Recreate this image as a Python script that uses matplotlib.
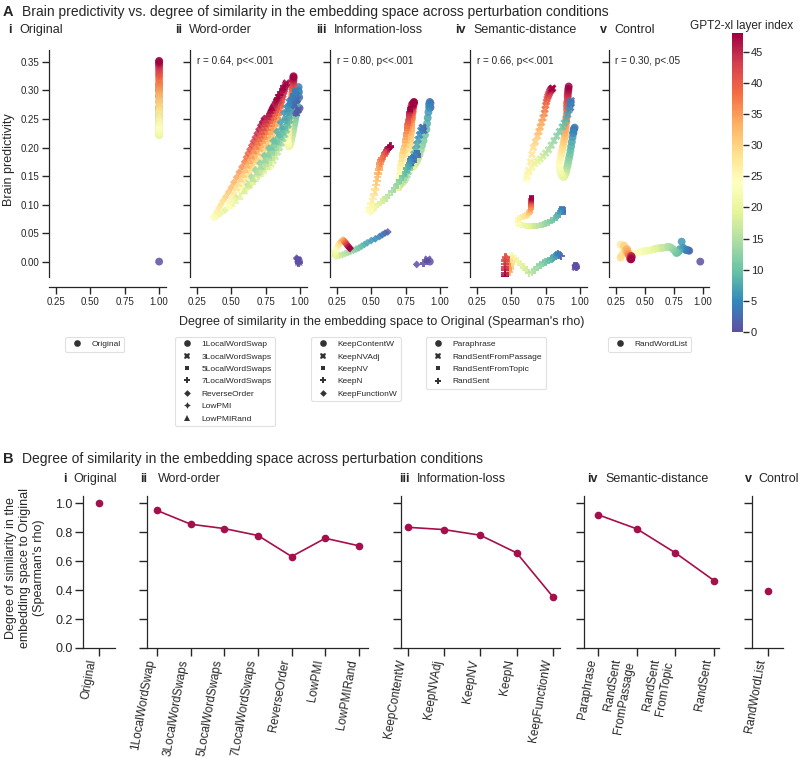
import matplotlib
matplotlib.use('Agg')
import matplotlib.pyplot as plt
from matplotlib.lines import Line2D
from matplotlib.cm import ScalarMappable
from matplotlib.colors import Normalize

plt.rcParams['font.family'] = ['Liberation Sans', 'DejaVu Sans']
plt.rcParams['text.color'] = '#262626'
plt.rcParams['axes.edgecolor'] = '#262626'
plt.rcParams['xtick.color'] = '#262626'
plt.rcParams['ytick.color'] = '#262626'

# ------------------------------------------------------------------ data
layers = list(range(49))

x_Original = [1.0, 1.0, 1.0, 1.0, 1.0, 1.0, 1.0, 1.0, 1.0, 1.0,
              1.0, 1.0, 1.0, 1.0, 1.0, 1.0, 1.0, 1.0, 1.0, 1.0,
              1.0, 1.0, 1.0, 1.0, 1.0, 1.0, 1.0, 1.0, 1.0, 1.0,
              1.0, 1.0, 1.0, 1.0, 1.0, 1.0, 1.0, 1.0, 1.0, 1.0,
              1.0, 1.0, 1.0, 1.0, 1.0, 1.0, 1.0, 1.0, 1.0]
y_Original = [0.000, 0.270, 0.290, 0.300, 0.310, 0.305, 0.300, 0.290, 0.280, 0.270,
              0.265, 0.260, 0.255, 0.250, 0.245, 0.240, 0.235, 0.230, 0.225, 0.222,
              0.222, 0.225, 0.228, 0.232, 0.238, 0.245, 0.252, 0.260, 0.266, 0.272,
              0.278, 0.284, 0.290, 0.295, 0.300, 0.305, 0.310, 0.315, 0.320, 0.325,
              0.328, 0.332, 0.336, 0.340, 0.343, 0.346, 0.348, 0.350, 0.352]

x_1LocalWordSwap = [0.990, 0.996, 0.993, 0.991, 0.989, 0.987, 0.984, 0.980, 0.977, 0.973,
                    0.969, 0.964, 0.960, 0.955, 0.951, 0.946, 0.941, 0.935, 0.930, 0.924,
                    0.919, 0.915, 0.912, 0.910, 0.910, 0.912, 0.915, 0.917, 0.920, 0.923,
                    0.925, 0.928, 0.931, 0.933, 0.936, 0.939, 0.942, 0.944, 0.946, 0.947,
                    0.948, 0.948, 0.949, 0.950, 0.950, 0.951, 0.951, 0.952, 0.952]
y_1LocalWordSwap = [0.002, 0.269, 0.288, 0.297, 0.306, 0.300, 0.295, 0.284, 0.273, 0.262,
                    0.256, 0.250, 0.244, 0.238, 0.232, 0.226, 0.220, 0.214, 0.208, 0.204,
                    0.202, 0.204, 0.206, 0.209, 0.214, 0.221, 0.228, 0.236, 0.243, 0.249,
                    0.255, 0.262, 0.268, 0.273, 0.279, 0.285, 0.290, 0.295, 0.299, 0.303,
                    0.306, 0.309, 0.312, 0.315, 0.317, 0.319, 0.321, 0.323, 0.325]

x_3LocalWordSwaps = [0.985, 0.988, 0.980, 0.975, 0.970, 0.963, 0.955, 0.945, 0.935, 0.925,
                     0.913, 0.900, 0.888, 0.875, 0.863, 0.850, 0.835, 0.820, 0.805, 0.790,
                     0.775, 0.763, 0.755, 0.750, 0.750, 0.755, 0.763, 0.770, 0.778, 0.785,
                     0.793, 0.800, 0.808, 0.815, 0.823, 0.830, 0.838, 0.845, 0.850, 0.855,
                     0.860, 0.865, 0.870, 0.875, 0.880, 0.885, 0.890, 0.895, 0.900]
y_3LocalWordSwaps = [0.003, 0.266, 0.284, 0.292, 0.300, 0.292, 0.285, 0.272, 0.260, 0.248,
                     0.240, 0.231, 0.223, 0.216, 0.208, 0.200, 0.192, 0.184, 0.177, 0.171,
                     0.167, 0.166, 0.167, 0.168, 0.173, 0.179, 0.186, 0.194, 0.201, 0.208,
                     0.215, 0.222, 0.229, 0.235, 0.242, 0.248, 0.255, 0.261, 0.267, 0.273,
                     0.277, 0.283, 0.288, 0.293, 0.298, 0.302, 0.306, 0.310, 0.313]

x_5LocalWordSwaps = [0.985, 0.985, 0.975, 0.969, 0.963, 0.954, 0.944, 0.932, 0.919, 0.907,
                     0.892, 0.876, 0.861, 0.845, 0.830, 0.814, 0.795, 0.777, 0.758, 0.740,
                     0.721, 0.706, 0.696, 0.690, 0.690, 0.696, 0.706, 0.715, 0.724, 0.733,
                     0.743, 0.752, 0.761, 0.771, 0.780, 0.789, 0.799, 0.808, 0.814, 0.820,
                     0.826, 0.833, 0.839, 0.845, 0.851, 0.857, 0.864, 0.870, 0.876]
y_5LocalWordSwaps = [0.001, 0.265, 0.282, 0.290, 0.297, 0.289, 0.282, 0.268, 0.255, 0.242,
                     0.233, 0.225, 0.216, 0.207, 0.199, 0.191, 0.182, 0.173, 0.165, 0.158,
                     0.154, 0.152, 0.152, 0.153, 0.157, 0.163, 0.170, 0.178, 0.185, 0.192,
                     0.199, 0.206, 0.214, 0.221, 0.227, 0.234, 0.241, 0.249, 0.254, 0.261,
                     0.265, 0.271, 0.277, 0.282, 0.287, 0.292, 0.296, 0.300, 0.304]

x_7LocalWordSwaps = [0.990, 0.981, 0.969, 0.961, 0.953, 0.942, 0.930, 0.914, 0.899, 0.883,
                     0.864, 0.844, 0.825, 0.805, 0.786, 0.766, 0.743, 0.719, 0.696, 0.672,
                     0.649, 0.630, 0.618, 0.610, 0.610, 0.618, 0.630, 0.641, 0.653, 0.665,
                     0.676, 0.688, 0.700, 0.711, 0.723, 0.735, 0.747, 0.758, 0.766, 0.774,
                     0.782, 0.789, 0.797, 0.805, 0.813, 0.821, 0.828, 0.836, 0.844]
y_7LocalWordSwaps = [-0.002, 0.264, 0.280, 0.287, 0.294, 0.285, 0.277, 0.263, 0.249, 0.235,
                     0.225, 0.215, 0.206, 0.196, 0.187, 0.178, 0.168, 0.159, 0.150, 0.142,
                     0.136, 0.133, 0.132, 0.132, 0.136, 0.142, 0.149, 0.157, 0.164, 0.172,
                     0.179, 0.187, 0.194, 0.201, 0.209, 0.216, 0.224, 0.231, 0.238, 0.244,
                     0.249, 0.255, 0.261, 0.267, 0.272, 0.278, 0.282, 0.287, 0.292]

x_ReverseOrder = [0.975, 0.968, 0.948, 0.935, 0.922, 0.903, 0.883, 0.857, 0.831, 0.805,
                  0.773, 0.740, 0.708, 0.675, 0.643, 0.610, 0.571, 0.532, 0.493, 0.454,
                  0.420, 0.395, 0.380, 0.372, 0.375, 0.385, 0.398, 0.410, 0.425, 0.441,
                  0.461, 0.480, 0.500, 0.519, 0.539, 0.558, 0.578, 0.597, 0.610, 0.623,
                  0.636, 0.649, 0.662, 0.675, 0.688, 0.701, 0.714, 0.727, 0.740]
y_ReverseOrder = [0.006, 0.260, 0.273, 0.279, 0.283, 0.272, 0.261, 0.244, 0.228, 0.212,
                  0.199, 0.186, 0.173, 0.161, 0.149, 0.137, 0.124, 0.112, 0.100, 0.090,
                  0.084, 0.080, 0.078, 0.077, 0.079, 0.083, 0.088, 0.094, 0.100, 0.107,
                  0.114, 0.122, 0.130, 0.139, 0.148, 0.157, 0.166, 0.175, 0.183, 0.190,
                  0.197, 0.204, 0.211, 0.218, 0.225, 0.232, 0.239, 0.245, 0.251]

x_LowPMI = [0.980, 0.979, 0.966, 0.957, 0.948, 0.936, 0.923, 0.905, 0.888, 0.871,
            0.850, 0.828, 0.807, 0.785, 0.764, 0.742, 0.716, 0.690, 0.665, 0.639,
            0.613, 0.592, 0.579, 0.570, 0.570, 0.579, 0.592, 0.604, 0.617, 0.630,
            0.643, 0.656, 0.669, 0.682, 0.695, 0.708, 0.721, 0.733, 0.742, 0.751,
            0.759, 0.768, 0.776, 0.785, 0.794, 0.802, 0.811, 0.819, 0.828]
y_LowPMI = [0.004, 0.264, 0.279, 0.286, 0.292, 0.283, 0.274, 0.260, 0.246, 0.232,
            0.221, 0.211, 0.201, 0.191, 0.181, 0.172, 0.162, 0.152, 0.142, 0.134,
            0.127, 0.124, 0.122, 0.122, 0.125, 0.131, 0.139, 0.147, 0.154, 0.161,
            0.169, 0.177, 0.184, 0.192, 0.199, 0.207, 0.215, 0.223, 0.229, 0.236,
            0.241, 0.247, 0.253, 0.260, 0.265, 0.271, 0.276, 0.280, 0.285]

x_LowPMIRand = [0.990, 0.974, 0.958, 0.948, 0.938, 0.922, 0.906, 0.886, 0.865, 0.844,
                0.818, 0.792, 0.766, 0.740, 0.714, 0.688, 0.657, 0.626, 0.594, 0.563,
                0.532, 0.506, 0.490, 0.480, 0.480, 0.490, 0.506, 0.522, 0.537, 0.553,
                0.568, 0.584, 0.600, 0.615, 0.631, 0.646, 0.662, 0.678, 0.688, 0.698,
                0.709, 0.719, 0.730, 0.740, 0.750, 0.761, 0.771, 0.782, 0.792]
y_LowPMIRand = [0.000, 0.262, 0.277, 0.283, 0.289, 0.279, 0.269, 0.254, 0.238, 0.224,
                0.212, 0.201, 0.189, 0.179, 0.168, 0.158, 0.146, 0.135, 0.125, 0.115,
                0.108, 0.103, 0.100, 0.099, 0.102, 0.108, 0.115, 0.123, 0.131, 0.138,
                0.146, 0.154, 0.162, 0.170, 0.178, 0.186, 0.195, 0.203, 0.210, 0.217,
                0.223, 0.229, 0.236, 0.243, 0.249, 0.255, 0.260, 0.266, 0.271]

x_KeepContentW = [0.925, 0.930, 0.930, 0.925, 0.920, 0.920, 0.915, 0.910, 0.905, 0.900,
                  0.890, 0.880, 0.870, 0.860, 0.850, 0.840, 0.830, 0.820, 0.810, 0.800,
                  0.795, 0.790, 0.785, 0.780, 0.780, 0.780, 0.780, 0.780, 0.780, 0.785,
                  0.785, 0.785, 0.790, 0.790, 0.790, 0.790, 0.795, 0.795, 0.795, 0.800,
                  0.800, 0.800, 0.800, 0.805, 0.805, 0.805, 0.810, 0.810, 0.810]
y_KeepContentW = [0.000, 0.270, 0.278, 0.280, 0.276, 0.270, 0.262, 0.252, 0.242, 0.232,
                  0.222, 0.212, 0.204, 0.196, 0.188, 0.182, 0.176, 0.172, 0.168, 0.166,
                  0.166, 0.168, 0.170, 0.175, 0.180, 0.186, 0.192, 0.198, 0.204, 0.210,
                  0.216, 0.222, 0.228, 0.234, 0.240, 0.245, 0.250, 0.254, 0.258, 0.262,
                  0.265, 0.268, 0.270, 0.272, 0.274, 0.276, 0.278, 0.279, 0.280]

x_KeepNVAdj = [0.910, 0.880, 0.875, 0.870, 0.860, 0.850, 0.840, 0.830, 0.820, 0.810,
               0.800, 0.790, 0.780, 0.770, 0.760, 0.750, 0.740, 0.730, 0.720, 0.715,
               0.710, 0.710, 0.710, 0.715, 0.720, 0.725, 0.730, 0.735, 0.740, 0.745,
               0.750, 0.755, 0.760, 0.765, 0.770, 0.770, 0.775, 0.775, 0.780, 0.780,
               0.785, 0.785, 0.790, 0.790, 0.790, 0.795, 0.795, 0.800, 0.800]
y_KeepNVAdj = [0.004, 0.230, 0.235, 0.235, 0.230, 0.222, 0.214, 0.205, 0.196, 0.188,
               0.180, 0.172, 0.165, 0.158, 0.152, 0.147, 0.143, 0.140, 0.138, 0.137,
               0.138, 0.140, 0.144, 0.150, 0.157, 0.165, 0.173, 0.181, 0.189, 0.197,
               0.205, 0.212, 0.219, 0.226, 0.232, 0.238, 0.243, 0.248, 0.252, 0.256,
               0.260, 0.263, 0.266, 0.268, 0.270, 0.272, 0.274, 0.275, 0.276]

x_KeepNV = [0.900, 0.840, 0.835, 0.830, 0.820, 0.810, 0.800, 0.795, 0.790, 0.780,
            0.770, 0.760, 0.750, 0.740, 0.730, 0.720, 0.710, 0.700, 0.695, 0.690,
            0.690, 0.690, 0.695, 0.700, 0.700, 0.705, 0.710, 0.715, 0.720, 0.725,
            0.730, 0.735, 0.740, 0.745, 0.750, 0.750, 0.755, 0.760, 0.760, 0.765,
            0.765, 0.770, 0.770, 0.775, 0.775, 0.780, 0.780, 0.780, 0.785]
y_KeepNV = [0.002, 0.186, 0.190, 0.190, 0.188, 0.184, 0.180, 0.176, 0.172, 0.168,
            0.163, 0.158, 0.152, 0.147, 0.142, 0.138, 0.134, 0.131, 0.129, 0.129,
            0.131, 0.135, 0.140, 0.146, 0.152, 0.159, 0.166, 0.173, 0.180, 0.187,
            0.194, 0.200, 0.206, 0.212, 0.218, 0.223, 0.228, 0.233, 0.238, 0.242,
            0.246, 0.250, 0.254, 0.257, 0.260, 0.263, 0.265, 0.267, 0.268]

x_KeepN = [0.880, 0.800, 0.800, 0.795, 0.790, 0.785, 0.780, 0.770, 0.760, 0.750,
           0.730, 0.710, 0.690, 0.670, 0.650, 0.630, 0.610, 0.590, 0.570, 0.550,
           0.530, 0.515, 0.500, 0.490, 0.485, 0.490, 0.500, 0.510, 0.520, 0.530,
           0.535, 0.540, 0.545, 0.550, 0.555, 0.560, 0.565, 0.570, 0.580, 0.590,
           0.600, 0.605, 0.610, 0.615, 0.620, 0.625, 0.630, 0.635, 0.640]
y_KeepN = [-0.003, 0.175, 0.180, 0.182, 0.180, 0.177, 0.173, 0.168, 0.163, 0.157,
           0.150, 0.143, 0.136, 0.129, 0.123, 0.117, 0.112, 0.108, 0.104, 0.100,
           0.096, 0.092, 0.089, 0.088, 0.090, 0.095, 0.102, 0.110, 0.118, 0.126,
           0.134, 0.141, 0.148, 0.155, 0.161, 0.167, 0.172, 0.177, 0.181, 0.185,
           0.189, 0.192, 0.194, 0.196, 0.198, 0.199, 0.200, 0.201, 0.202]

x_KeepFunctionW = [0.830, 0.620, 0.600, 0.580, 0.560, 0.530, 0.500, 0.470, 0.450, 0.430,
                   0.410, 0.390, 0.370, 0.350, 0.330, 0.310, 0.290, 0.270, 0.250, 0.240,
                   0.235, 0.235, 0.240, 0.245, 0.250, 0.255, 0.260, 0.265, 0.270, 0.275,
                   0.280, 0.285, 0.290, 0.295, 0.300, 0.305, 0.310, 0.310, 0.315, 0.315,
                   0.320, 0.320, 0.325, 0.330, 0.330, 0.335, 0.340, 0.340, 0.345]
y_KeepFunctionW = [-0.005, 0.052, 0.050, 0.047, 0.044, 0.040, 0.037, 0.033, 0.030, 0.027,
                   0.024, 0.022, 0.020, 0.018, 0.016, 0.014, 0.012, 0.011, 0.010, 0.010,
                   0.012, 0.015, 0.018, 0.021, 0.024, 0.026, 0.028, 0.030, 0.032, 0.034,
                   0.035, 0.036, 0.037, 0.037, 0.037, 0.036, 0.035, 0.034, 0.033, 0.032,
                   0.031, 0.030, 0.029, 0.028, 0.027, 0.026, 0.025, 0.024, 0.023]

x_Paraphrase = [0.970, 0.950, 0.955, 0.960, 0.955, 0.950, 0.945, 0.940, 0.935, 0.930,
                0.925, 0.920, 0.915, 0.910, 0.905, 0.900, 0.895, 0.890, 0.885, 0.880,
                0.870, 0.860, 0.855, 0.850, 0.850, 0.855, 0.860, 0.865, 0.870, 0.875,
                0.880, 0.885, 0.890, 0.890, 0.895, 0.895, 0.900, 0.900, 0.905, 0.905,
                0.905, 0.905, 0.910, 0.910, 0.910, 0.912, 0.914, 0.915, 0.917]
y_Paraphrase = [-0.008, 0.225, 0.232, 0.235, 0.232, 0.226, 0.218, 0.210, 0.202, 0.195,
                0.188, 0.182, 0.176, 0.170, 0.165, 0.160, 0.156, 0.152, 0.150, 0.148,
                0.150, 0.155, 0.160, 0.166, 0.172, 0.178, 0.184, 0.190, 0.196, 0.202,
                0.208, 0.214, 0.220, 0.226, 0.232, 0.238, 0.245, 0.252, 0.259, 0.266,
                0.272, 0.278, 0.283, 0.288, 0.292, 0.296, 0.300, 0.303, 0.307]

x_RandSentFromPassage = [0.965, 0.930, 0.935, 0.935, 0.930, 0.925, 0.920, 0.910, 0.900, 0.885,
                         0.870, 0.850, 0.830, 0.810, 0.790, 0.770, 0.750, 0.730, 0.710, 0.690,
                         0.670, 0.650, 0.630, 0.615, 0.610, 0.615, 0.625, 0.640, 0.650, 0.660,
                         0.675, 0.690, 0.700, 0.710, 0.720, 0.730, 0.740, 0.745, 0.750, 0.755,
                         0.760, 0.765, 0.770, 0.775, 0.780, 0.785, 0.790, 0.795, 0.800]
y_RandSentFromPassage = [-0.010, 0.270, 0.278, 0.282, 0.280, 0.274, 0.266, 0.258, 0.250, 0.243,
                         0.236, 0.228, 0.220, 0.212, 0.204, 0.196, 0.190, 0.185, 0.180, 0.176,
                         0.172, 0.165, 0.157, 0.150, 0.145, 0.150, 0.160, 0.175, 0.188, 0.200,
                         0.210, 0.220, 0.228, 0.236, 0.244, 0.252, 0.260, 0.267, 0.274, 0.280,
                         0.285, 0.289, 0.292, 0.295, 0.298, 0.300, 0.302, 0.303, 0.304]

x_RandSentFromTopic = [0.965, 0.880, 0.875, 0.870, 0.865, 0.860, 0.850, 0.840, 0.830, 0.820,
                       0.800, 0.780, 0.760, 0.740, 0.720, 0.700, 0.680, 0.660, 0.640, 0.620,
                       0.600, 0.580, 0.560, 0.550, 0.545, 0.550, 0.560, 0.580, 0.600, 0.615,
                       0.625, 0.630, 0.635, 0.640, 0.640, 0.640, 0.642, 0.643, 0.644, 0.645,
                       0.645, 0.645, 0.645, 0.646, 0.646, 0.646, 0.647, 0.647, 0.648]
y_RandSentFromTopic = [-0.006, 0.086, 0.090, 0.092, 0.091, 0.089, 0.086, 0.082, 0.079, 0.076,
                       0.073, 0.070, 0.068, 0.066, 0.064, 0.063, 0.062, 0.062, 0.062, 0.062,
                       0.063, 0.064, 0.066, 0.068, 0.070, 0.073, 0.076, 0.078, 0.080, 0.082,
                       0.084, 0.086, 0.088, 0.090, 0.092, 0.094, 0.096, 0.098, 0.100, 0.102,
                       0.104, 0.105, 0.106, 0.107, 0.108, 0.109, 0.110, 0.111, 0.112]

x_RandSent = [0.970, 0.860, 0.850, 0.840, 0.830, 0.820, 0.810, 0.800, 0.790, 0.770,
              0.750, 0.730, 0.710, 0.690, 0.670, 0.650, 0.630, 0.610, 0.590, 0.570,
              0.550, 0.530, 0.510, 0.500, 0.490, 0.485, 0.480, 0.510, 0.500, 0.500,
              0.490, 0.490, 0.480, 0.485, 0.480, 0.475, 0.470, 0.470, 0.465, 0.465,
              0.460, 0.460, 0.455, 0.455, 0.455, 0.455, 0.455, 0.455, 0.455]
y_RandSent = [-0.010, 0.010, 0.012, 0.013, 0.012, 0.010, 0.008, 0.006, 0.004, 0.002,
              0.000, -0.003, -0.006, -0.010, -0.015, -0.018, -0.020, -0.015, -0.010, -0.005,
              0.000, 0.005, 0.008, 0.010, 0.008, 0.005, 0.002, 0.004, 0.000, -0.004,
              -0.008, -0.012, -0.015, -0.018, -0.016, -0.012, -0.008, -0.004, 0.000, 0.004,
              0.006, 0.008, 0.002, -0.004, -0.010, -0.015, -0.020, -0.024, -0.028]

x_RandWordList = [0.975, 0.880, 0.870, 0.860, 0.845, 0.830, 0.815, 0.800, 0.790, 0.780,
                  0.770, 0.760, 0.740, 0.720, 0.700, 0.680, 0.650, 0.630, 0.600, 0.580,
                  0.550, 0.510, 0.480, 0.440, 0.400, 0.350, 0.310, 0.290, 0.300, 0.290,
                  0.320, 0.330, 0.340, 0.345, 0.350, 0.355, 0.360, 0.365, 0.370, 0.370,
                  0.375, 0.375, 0.380, 0.380, 0.380, 0.385, 0.385, 0.380, 0.380]
y_RandWordList = [0.000, 0.019, 0.020, 0.020, 0.021, 0.024, 0.035, 0.022, 0.018, 0.016,
                  0.015, 0.018, 0.022, 0.025, 0.026, 0.025, 0.024, 0.024, 0.023, 0.022,
                  0.020, 0.019, 0.018, 0.016, 0.015, 0.018, 0.024, 0.030, 0.012, 0.007,
                  0.028, 0.020, 0.016, 0.022, 0.018, 0.014, 0.012, 0.010, 0.008, 0.006,
                  0.005, 0.004, 0.006, 0.008, 0.010, 0.009, 0.007, 0.005, 0.004]

# panel group definitions
group_numerals = ['i', 'ii', 'iii', 'iv', 'v']
group_names = ['Original', 'Word-order', 'Information-loss', 'Semantic-distance', 'Control']
cond_original = ['Original']
cond_wordorder = ['1LocalWordSwap', '3LocalWordSwaps', '5LocalWordSwaps', '7LocalWordSwaps',
                  'ReverseOrder', 'LowPMI', 'LowPMIRand']
cond_infoloss = ['KeepContentW', 'KeepNVAdj', 'KeepNV', 'KeepN', 'KeepFunctionW']
cond_semantic = ['Paraphrase', 'RandSentFromPassage', 'RandSentFromTopic', 'RandSent']
cond_control = ['RandWordList']
corr_labels = ['', 'r = 0.64, p<<.001', 'r = 0.80, p<<.001', 'r = 0.66, p<<.001', 'r = 0.30, p<.05']

# panel B: mean similarity per condition
sim_original = [1.00]
sim_wordorder = [0.950, 0.855, 0.825, 0.777, 0.632, 0.758, 0.706]
sim_infoloss = [0.834, 0.818, 0.779, 0.657, 0.352]
sim_semantic = [0.920, 0.823, 0.657, 0.466]
sim_control = [0.393]
labels_semantic_B = ['Paraphrase', 'RandSent\nFromPassage', 'RandSent\nFromTopic', 'RandSent']

# ------------------------------------------------------------------ figure
W, H = 800, 758
fig = plt.figure(figsize=(W / 100, H / 100), dpi=100)


def add_ax(l, t, r, b):
    return fig.add_axes([l / W, 1 - b / H, (r - l) / W, (b - t) / H])


def ftext(px, py, s, **kw):
    return fig.text(px / W, 1 - py / H, s, **kw)


cmap = 'Spectral_r'
norm = Normalize(vmin=0, vmax=48)
markers = ['o', 'X', (4, 0, 45), 'P', (4, 0, 0), (4, 1, 0), '^']
data = {}
for name in (cond_original + cond_wordorder + cond_infoloss + cond_semantic + cond_control):
    data[name] = (globals()['x_' + name], globals()['y_' + name])

groups = [cond_original, cond_wordorder, cond_infoloss, cond_semantic, cond_control]

# ---- Panel A
ax_boxes = [(49, 166, 0.2, 1.05), (190, 307, 0.2, 1.05), (330, 447, 0.2, 1.05),
            (470, 587, 0.2, 1.05), (609, 709, 0.19, 1.05)]
title_pos_A = [(8, 19), (175, 189), (316, 334), (455, 473), (600, 614)]
legend_pos = [(65, 337), (175, 337), (311, 337), (426, 337), (608, 337)]
for gi, conds in enumerate(groups):
    l, r, x0, x1 = ax_boxes[gi]
    ax = add_ax(l, 50, r, 277)
    for ci, name in enumerate(conds):
        xs, ys = data[name]
        ax.scatter(xs, ys, c=layers, cmap=cmap, norm=norm, marker=markers[ci],
                   s=32, alpha=0.85, linewidths=0, zorder=3)
    ax.set_xlim(x0, x1)
    ax.set_ylim(-0.027, 0.371)
    ax.set_xticks([0.25, 0.5, 0.75, 1.0])
    ax.set_xticklabels(['0.25', '0.50', '0.75', '1.00'])
    ax.set_yticks([0.0, 0.05, 0.10, 0.15, 0.20, 0.25, 0.30, 0.35])
    if gi == 0:
        ax.set_yticklabels(['0.00', '0.05', '0.10', '0.15', '0.20', '0.25', '0.30', '0.35'])
    else:
        ax.set_yticklabels([])
    for s in ['top', 'right']:
        ax.spines[s].set_visible(False)
    ax.spines['bottom'].set_position(('outward', 7.5))
    for s in ['left', 'bottom']:
        ax.spines[s].set_linewidth(0.9)
    ax.tick_params(axis='both', direction='out', length=5, width=1.0, labelsize=7, pad=2)
    if corr_labels[gi]:
        ax.text(0.06, 0.975, corr_labels[gi], transform=ax.transAxes, ha='left', va='top',
                fontsize=7.2)
    nx, tx = title_pos_A[gi]
    ftext(nx, 30, group_numerals[gi], fontsize=9, fontweight='bold', ha='left', va='center')
    ftext(tx, 30, group_names[gi], fontsize=9, ha='left', va='center')
    handles = [Line2D([], [], marker=markers[ci], color='#333333', linestyle='none',
                      markersize=4.8, markeredgewidth=0) for ci in range(len(conds))]
    lx, ly = legend_pos[gi]
    leg = ax.legend(handles, conds, loc='upper left',
                    bbox_to_anchor=(lx / W, 1 - ly / H), bbox_transform=fig.transFigure,
                    borderaxespad=0, fontsize=6, frameon=True, labelspacing=0.55)
    leg.get_frame().set_edgecolor('#d9d9d9')
    leg.get_frame().set_linewidth(0.8)

ftext(3, 12, 'A', fontsize=10.5, fontweight='bold', ha='left', va='center')
ftext(22, 12, 'Brain predictivity vs. degree of similarity in the embedding space across perturbation conditions',
      fontsize=10, ha='left', va='center')
ftext(9, 160, 'Brain predictivity', rotation=90, fontsize=9, ha='center', va='center')
ftext(382, 322, "Degree of similarity in the embedding space to Original (Spearman's rho)",
      fontsize=9, ha='center', va='center')

# colorbar
cax = add_ax(732, 33, 743, 332)
sm = ScalarMappable(norm=norm, cmap=cmap)
cb = fig.colorbar(sm, cax=cax, ticks=[0, 5, 10, 15, 20, 25, 30, 35, 40, 45])
cb.outline.set_visible(False)
cax.tick_params(labelsize=8, length=4, width=1.0, pad=1.5)
ftext(742, 26, 'GPT2-xl layer index', fontsize=8.5, ha='center', va='center')

# ---- Panel B
crimson = '#a50f4c'
B_boxes = [(83, 115, -0.5, 0.5), (147, 368, -0.3, 6.27), (401, 560, -0.18, 4.19),
           (584, 719, -0.37, 3.13), (752, 783, -0.5, 0.47)]
B_vals = [sim_original, sim_wordorder, sim_infoloss, sim_semantic, sim_control]
B_labels = [cond_original, cond_wordorder, cond_infoloss, labels_semantic_B, cond_control]
title_pos_B = [(63, 73), (140, 158), (399, 417), (587, 605), (745, 758)]
for gi in range(5):
    l, r, x0, x1 = B_boxes[gi]
    ax = add_ax(l, 496, r, 648)
    vals = B_vals[gi]
    ax.plot(range(len(vals)), vals, color=crimson, marker='o', markersize=5.5,
            linewidth=1.2, markeredgewidth=0)
    ax.set_xlim(x0, x1)
    ax.set_ylim(0, 1.05)
    ax.set_xticks(range(len(vals)))
    ax.set_xticklabels(B_labels[gi], rotation=80, ha='right', fontsize=8.5)
    ax.set_yticks([0.0, 0.2, 0.4, 0.6, 0.8, 1.0])
    if gi == 0:
        ax.set_yticklabels(['0.0', '0.2', '0.4', '0.6', '0.8', '1.0'])
    else:
        ax.set_yticklabels([])
    for s in ['top', 'right']:
        ax.spines[s].set_visible(False)
    for s in ['left', 'bottom']:
        ax.spines[s].set_linewidth(0.9)
    ax.tick_params(axis='both', direction='out', length=5.5, width=1.0, pad=2)
    ax.tick_params(axis='y', labelsize=9)
    nx, tx = title_pos_B[gi]
    ftext(nx, 479, group_numerals[gi], fontsize=9, fontweight='bold', ha='left', va='center')
    ftext(tx, 479, group_names[gi], fontsize=9, ha='left', va='center')

ftext(3, 459, 'B', fontsize=10.5, fontweight='bold', ha='left', va='center')
ftext(22, 459, 'Degree of similarity in the embedding space across perturbation conditions',
      fontsize=10, ha='left', va='center')
ftext(25, 568, "Degree of similarity in the\nembedding space to Original\n(Spearman's rho)",
      rotation=90, fontsize=9, ha='center', va='center', multialignment='center')

fig.savefig('out.png', dpi=100)
